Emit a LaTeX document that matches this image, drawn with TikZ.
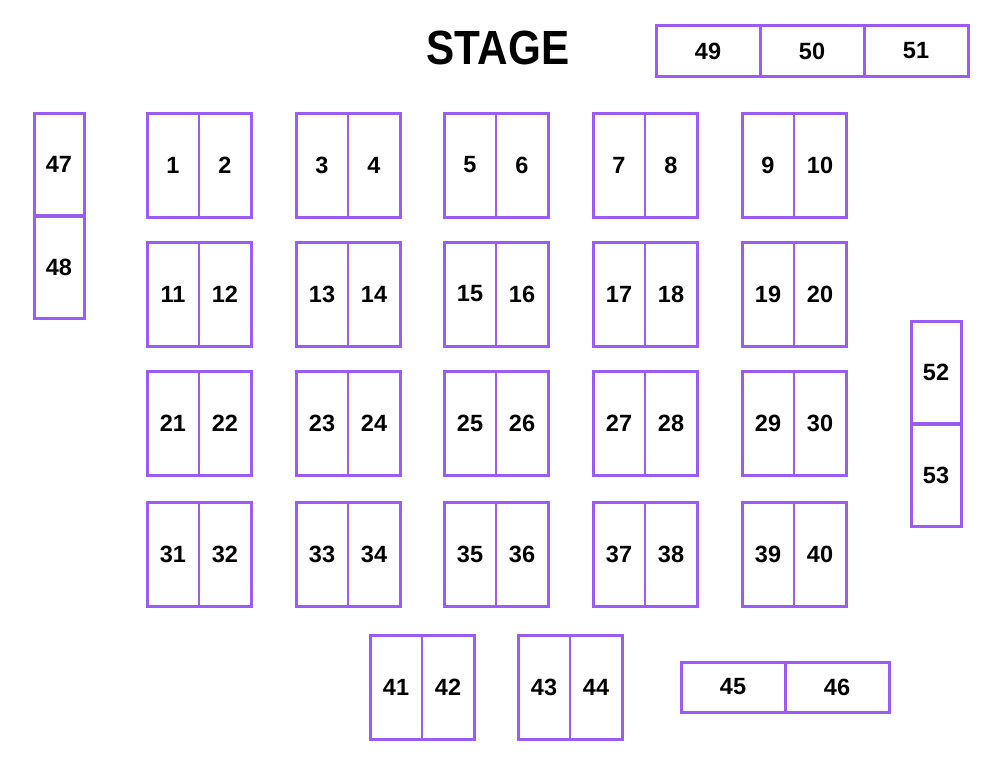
\documentclass[tikz,border=0pt]{standalone}
\usepackage{fontspec}
\usepackage{graphicx}
\setmainfont{Liberation Sans}
\definecolor{vio}{HTML}{9B5CF6}
\begin{document}
\begin{tikzpicture}[x=1pt,y=-1pt,
  numfont/.style={font=\fontsize{23.5}{28}\selectfont\bfseries},
  cell/.style={draw=vio,line width=2pt,minimum width=52pt,minimum height=104pt,inner sep=0pt,outer sep=0pt,numfont},
  wide/.style={draw=vio,line width=3pt,minimum width=104pt,minimum height=50pt,inner sep=0pt,outer sep=0pt,numfont},
  tall/.style={draw=vio,line width=3pt,minimum width=50pt,minimum height=102pt,inner sep=0pt,outer sep=0pt,numfont},
  outline/.style={draw=vio,line width=3pt}]
\useasboundingbox[fill=white] (0,0) rectangle (1000,760);
\node[font=\fontsize{48}{56}\selectfont\bfseries] (stage) at (498,48) {\scalebox{0.88}[1]{STAGE}};
% main grid of pairs
\foreach \r/\top in {0/113,1/242,2/371,3/502}{
  \foreach \c/\lft in {0/147,1/296,2/444,3/593,4/742}{
    \pgfmathtruncatemacro{\a}{\r*10+\c*2+1}
    \pgfmathtruncatemacro{\b}{\a+1}
    \node[cell] (b\a) at (\lft+26,\top+52) {\a};
    \node[cell] (b\b) at (\lft+78,\top+52) {\b};
    \draw[outline] (b\a.north west) rectangle (b\b.south east);
  }
}
% bottom pairs
\foreach \a/\b/\lft in {41/42/370,43/44/518}{
  \node[cell] (b\a) at (\lft+26,687) {\a};
  \node[cell] (b\b) at (\lft+78,687) {\b};
  \draw[outline] (b\a.north west) rectangle (b\b.south east);
}
% wide booths
\node[wide] (b45) at (733,687) {45};
\node[wide] (b46) at (837,687) {46};
\node[wide] (b49) at (708,51) {49};
\node[wide] (b50) at (812,51) {50};
\node[wide] (b51) at (916,51) {51};
% tall booths
\node[tall] (b47) at (59,164) {47};
\node[tall] (b48) at (59,267) {48};
\node[tall] (b52) at (936,372) {52};
\node[tall] (b53) at (936,475) {53};
\end{tikzpicture}
\end{document}
